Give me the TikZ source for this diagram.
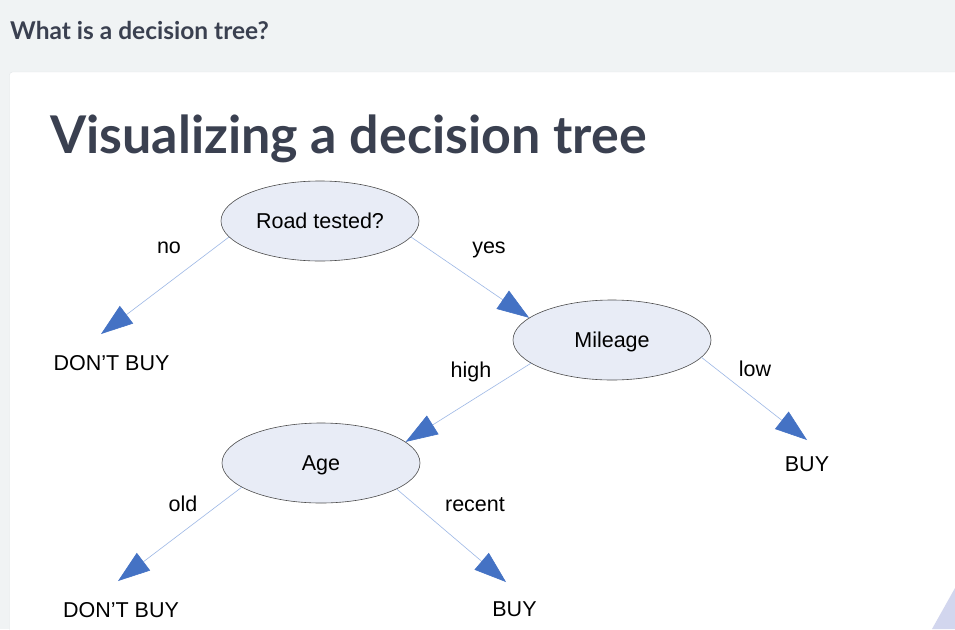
\documentclass[tikz,border=0pt]{standalone}
\usepackage{fontspec}
\setmainfont{Liberation Sans}
\newfontfamily\latofont{Lato}
\usetikzlibrary{shapes.geometric, arrows.meta, positioning}

\definecolor{pagegray}{HTML}{F0F3F4}
\definecolor{cardline}{HTML}{E1E5E8}
\definecolor{slate}{HTML}{3A4050}
\definecolor{nodefill}{HTML}{E8ECF6}
\definecolor{branchblue}{HTML}{9DB8E6}
\definecolor{headblue}{HTML}{4472C4}
\definecolor{cornerlav}{HTML}{D2D6EE}

\begin{document}
\begin{tikzpicture}[x=1pt, y=-1pt,
    test/.style={ellipse, draw=black!70, line width=0.6pt, fill=nodefill,
      minimum width=198pt, minimum height=80pt, inner sep=0pt,
      text height=15.5pt, text depth=0pt, font=\fontsize{21.5}{25}\selectfont},
    leaf/.style={anchor=base, font=\fontsize{21.5}{25}\selectfont},
    edgelabel/.style={anchor=base, font=\fontsize{21.5}{25}\selectfont},
    branch/.style={draw=branchblue, line width=0.6pt,
      -{Triangle[length=32pt, width=22pt, color=headblue, fill=headblue]}}]
        \useasboundingbox (0,0) rectangle (955,629);

        % Page and card
        \fill[pagegray] (0,0) rectangle (955,629);
        \draw[cardline, fill=white, rounded corners=3pt] (9.5,72) rectangle (975,660);
        \fill[cornerlav] (955,588) -- (932,629) -- (955,629) -- cycle;

        % Headings
        \node[anchor=base west, inner sep=0pt, text=slate,
          font=\latofont\bfseries\fontsize{24.5}{28}\selectfont] (question) at (10,39) {What is a decision tree?};
        \node[anchor=base west, inner sep=0pt, text=slate,
          font=\latofont\bfseries\fontsize{52}{58}\selectfont] (heading) at (50,153) {Visualizing a decision tree};

        % Tests
        \node[test] (road) at (320,221) {Road tested?};
        \node[test] (mileage) at (612,340) {Mileage};
        \node[test] (age) at (321,463) {Age};

        % Outcomes
        \node[leaf] (nobuy1) at (111.5,370) {DON’T BUY};
        \node[leaf] (buy1) at (807,471) {BUY};
        \node[leaf] (nobuy2) at (121,617) {DON’T BUY};
        \node[leaf] (buy2) at (514.5,616) {BUY};

        % Arrow tips above the outcomes
        \coordinate (tipnobuy1) at (101,334);
        \coordinate (tipbuy1) at (807,440);
        \coordinate (tipnobuy2) at (118,581);
        \coordinate (tipbuy2) at (506,582);

        % Branches
        \draw[branch] (road.190) -- (tipnobuy1);
        \draw[branch] (road.-10) -- (mileage.165);
        \draw[branch] (mileage.196) -- (age.14);
        \draw[branch] (mileage.-11) -- (tipbuy1);
        \draw[branch] (age.197) -- (tipnobuy2);
        \draw[branch] (age.-19) -- (tipbuy2);

        % Branch labels
        \node[edgelabel] (lno) at (169,253) {no};
        \node[edgelabel] (lyes) at (489,253) {yes};
        \node[edgelabel] (lhigh) at (471,377) {high};
        \node[edgelabel] (llow) at (755,376) {low};
        \node[edgelabel] (lold) at (183,511) {old};
        \node[edgelabel] (lrecent) at (475,511) {recent};
      \end{tikzpicture}
\end{document}
